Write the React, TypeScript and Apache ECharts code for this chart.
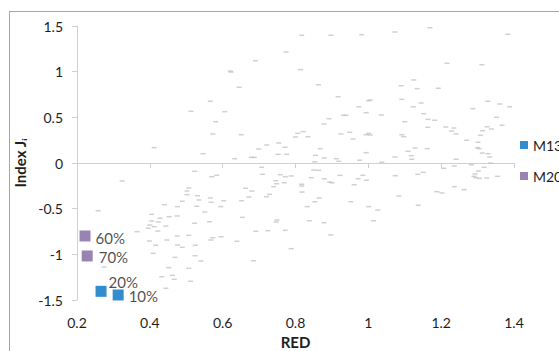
import React, { useEffect, useRef } from "react";
import * as echarts from "echarts";

const xTicks = { min: 0.2, max: 1.4, interval: 0.2 };
const yTicks = { min: -1.5, max: 1.5, interval: 0.5 };

const seriesNames = ["M13", "M20"];

// highlighted points [RED, Index J, label]
const m13Points: [number, number, string][] = [
  [0.266, -1.405, "20%"],
  [0.313, -1.445, "10%"],
];
const m20Points: [number, number, string][] = [
  [0.222, -0.799, "60%"],
  [0.228, -1.018, "70%"],
];

// background cloud [RED, Index J]
const otherPoints: [number, number][] = [
  [0.566, 0.676], [0.513, 0.566], [0.581, 0.452], [0.573, 0.318], [0.412, 0.168], [0.546, 0.102],
  [0.817, 1.398], [0.897, 1.398], [0.982, 1.405], [0.774, 1.215], [0.69, 1.12], [0.621, 1.007],
  [0.623, 0.996], [0.814, 1.022], [0.645, 0.829], [0.863, 0.857], [0.606, 0.562], [0.917, 0.726],
  [0.974, 0.616], [1.001, 0.682], [0.994, 0.551], [0.932, 0.522], [0.939, 0.522], [0.892, 0.485],
  [0.878, 0.427], [0.651, 0.31], [0.806, 0.325], [0.821, 0.343], [0.8, 0.285], [0.834, 0.288],
  [0.925, 0.318], [0.949, 0.336], [0.958, 0.263], [0.994, 0.31], [1.001, 0.325], [0.754, 0.219],
  [0.721, 0.197], [0.699, 0.153], [0.771, 0.172], [0.868, 0.157], [0.752, 0.095], [0.776, 0.095],
  [0.855, 0.084], [0.879, 0.055], [0.912, 0.047], [0.633, 0.047], [0.679, 0.062], [0.687, 0.062],
  [0.994, 0.113], [0.853, 0.014], [0.919, 0.019], [0.976, 0.03],
  [1.073, 1.434], [1.169, 1.481], [1.383, 1.409], [1.216, 1.092], [1.312, 1.076], [1.125, 0.909],
  [1.09, 0.846], [1.134, 0.814], [1.192, 0.818], [1.005, 0.69], [1.092, 0.697], [1.123, 0.616],
  [1.145, 0.657], [1.328, 0.676], [1.361, 0.646], [1.388, 0.616], [1.287, 0.595], [1.036, 0.526],
  [1.152, 0.54], [1.1, 0.452], [1.164, 0.478], [1.182, 0.468], [1.352, 0.5], [1.367, 0.413],
  [1.163, 0.391], [1.213, 0.394], [1.235, 0.383], [1.229, 0.35], [1.241, 0.318], [1.326, 0.397],
  [1.338, 0.372], [1.314, 0.354], [1.308, 0.303], [1.005, 0.307], [1.092, 0.31], [1.097, 0.288],
  [1.27, 0.249], [1.301, 0.227], [1.128, 0.164], [1.162, 0.157], [1.3, 0.168], [1.304, 0.157],
  [1.109, 0.128], [1.313, 0.109], [1.329, 0.102], [1.118, 0.08], [1.333, 0.066], [1.073, 0.066],
  [1.119, 0.041], [1.241, 0.041], [1.037, 0.008], [1.283, -0.019], [1.336, 0.0],
  [0.523, -0.091], [0.57, -0.15], [0.584, -0.135], [0.324, -0.197], [0.507, -0.274], [0.502, -0.307],
  [0.502, -0.347], [0.531, -0.358], [0.566, -0.383], [0.568, -0.43], [0.535, -0.405], [0.489, -0.419],
  [0.44, -0.457], [0.476, -0.478], [0.529, -0.474], [0.595, -0.478], [0.258, -0.522], [0.405, -0.562],
  [0.453, -0.588], [0.475, -0.58], [0.428, -0.605], [0.551, -0.537], [0.405, -0.635], [0.423, -0.646],
  [0.4, -0.679], [0.412, -0.697], [0.396, -0.715], [0.444, -0.69], [0.523, -0.66], [0.564, -0.643],
  [0.365, -0.752], [0.422, -0.745], [0.475, -0.799], [0.507, -0.792], [0.399, -0.854], [0.447, -0.843],
  [0.568, -0.843], [0.416, -0.901], [0.476, -0.898], [0.489, -0.923], [0.525, -0.901], [0.596, -0.807],
  [0.409, -0.989], [0.469, -1.033], [0.524, -1.015], [0.54, -1.073], [0.274, -1.139], [0.452, -1.146],
  [0.507, -1.153], [0.433, -1.245], [0.462, -1.23], [0.467, -1.273], [0.512, -1.295], [0.444, -1.372],
  [0.573, -0.818],
  [0.707, -0.047], [0.709, -0.124], [0.758, -0.128], [0.772, -0.15], [0.788, -0.142], [0.746, -0.194],
  [0.748, -0.227], [0.769, -0.216], [0.74, -0.259], [0.663, -0.277], [0.68, -0.307], [0.672, -0.372],
  [0.729, -0.343], [0.72, -0.369], [0.652, -0.413], [0.817, -0.233], [0.817, -0.252], [0.818, -0.318],
  [0.843, -0.161], [0.85, -0.077], [0.864, -0.08], [0.879, -0.172], [0.894, -0.208], [0.9, -0.216],
  [0.922, -0.135], [0.961, -0.238], [0.972, -0.172], [0.985, -0.135], [0.995, -0.189], [0.865, -0.383],
  [0.853, -0.424], [0.832, -0.478], [0.952, -0.424], [1.001, -0.478], [0.654, -0.595], [0.749, -0.624],
  [0.747, -0.646], [0.838, -0.632], [0.878, -0.654], [0.691, -0.748], [0.724, -0.741], [0.772, -0.737],
  [0.897, -0.788], [0.639, -0.857], [0.788, -0.938], [0.685, -1.07], [0.603, -0.413],
  [1.207, -0.058], [1.236, -0.033], [1.318, -0.047], [1.302, -0.088], [1.293, -0.12], [1.29, -0.146],
  [1.295, -0.161], [1.305, -0.168], [1.325, -0.164], [1.355, -0.146], [1.074, -0.139], [1.136, -0.124],
  [1.151, -0.102], [1.236, -0.259], [1.263, -0.292], [1.188, -0.314], [1.202, -0.328], [1.084, -0.361],
  [1.137, -0.463], [1.026, -0.515], [1.014, -0.632],
];

const FONT = "Lato, 'Open Sans', 'DejaVu Sans', sans-serif";
const TEXT = "#1e1e1e";
const AXIS = "#d0d0d0";

export default function App() {
  const ref = useRef<HTMLDivElement>(null);

  useEffect(() => {
    if (!ref.current) return;
    const chart = echarts.init(ref.current, undefined, { renderer: "svg" });
    const labelFor = (dist: number, offset: number[]) => ({
      show: true,
      position: "right",
      distance: dist,
      offset,
      formatter: (p: any) => String(p.value[2]),
      color: TEXT,
      fontSize: 15,
      fontFamily: FONT,
    });
    chart.setOption({
      animation: false,
      textStyle: { fontFamily: FONT },
      grid: { left: 67, top: 14, width: 437, height: 274, containLabel: false, outerBoundsMode: "none" },
      legend: {
        orient: "vertical",
        left: 505,
        top: 121,
        itemWidth: 8,
        itemHeight: 8,
        itemGap: 17,
        icon: "rect",
        data: seriesNames,
        textStyle: { color: TEXT, fontSize: 14, fontFamily: FONT },
      },
      xAxis: [
        {
          type: "value",
          ...xTicks,
          axisLine: { show: true, onZero: true, lineStyle: { color: AXIS, width: 1 } },
          axisTick: { show: true, length: 5, lineStyle: { color: AXIS } },
          axisLabel: { show: false },
          splitLine: { show: false },
        },
        {
          type: "value",
          position: "bottom",
          ...xTicks,
          axisLine: { show: false, onZero: false },
          axisTick: { show: false },
          axisLabel: { show: true, margin: 15, color: TEXT, fontSize: 14, fontFamily: FONT },
          splitLine: { show: false },
          name: "RED",
          nameLocation: "middle",
          nameGap: 34,
          nameTextStyle: { color: TEXT, fontSize: 15, fontWeight: "bold", fontFamily: FONT },
        },
      ],
      yAxis: {
        type: "value",
        ...yTicks,
        axisLine: { show: true, onZero: false, lineStyle: { color: AXIS, width: 1 } },
        axisTick: { show: true, length: 5, lineStyle: { color: AXIS } },
        axisLabel: { margin: 14, color: TEXT, fontSize: 14, fontFamily: FONT },
        splitLine: { show: false },
        name: "Index Jᵢ",
        nameLocation: "middle",
        nameGap: 48,
        nameTextStyle: { color: TEXT, fontSize: 15, fontWeight: "bold", fontFamily: "Lato, 'DejaVu Sans', sans-serif" },
      },
      series: [
        {
          name: "other",
          type: "scatter",
          xAxisIndex: 0,
          data: otherPoints,
          symbol: "rect",
          symbolSize: [5, 1.5],
          itemStyle: { color: "#c4c4c4" },
          silent: true,
        },
        {
          name: seriesNames[0],
          type: "scatter",
          xAxisIndex: 0,
          symbol: "rect",
          symbolSize: 11,
          itemStyle: { color: "#0070C0" },
          data: [
            { value: m13Points[0], label: labelFor(2, [0, -9]) },
            { value: m13Points[1], label: labelFor(5, [0, 1]) },
          ],
        },
        {
          name: seriesNames[1],
          type: "scatter",
          xAxisIndex: 0,
          symbol: "rect",
          symbolSize: 11,
          itemStyle: { color: "#8064A2" },
          data: [
            { value: m20Points[0], label: labelFor(5, [0, 2]) },
            { value: m20Points[1], label: labelFor(6, [0, 1]) },
          ],
        },
      ],
    });
    return () => chart.dispose();
  }, []);

  return (
    <div style={{ position: "fixed", left: 0, top: 0, width: 559, height: 351, overflow: "hidden", background: "#fff" }}>
      <div
        style={{
          position: "absolute",
          left: 9,
          top: 11,
          borderLeft: "1px solid #a6a6a6",
          borderTop: "1px solid #a6a6a6",
          width: 600,
          height: 380,
        }}
      >
        <div ref={ref} style={{ width: 600, height: 380 }} />
      </div>
    </div>
  );
}
